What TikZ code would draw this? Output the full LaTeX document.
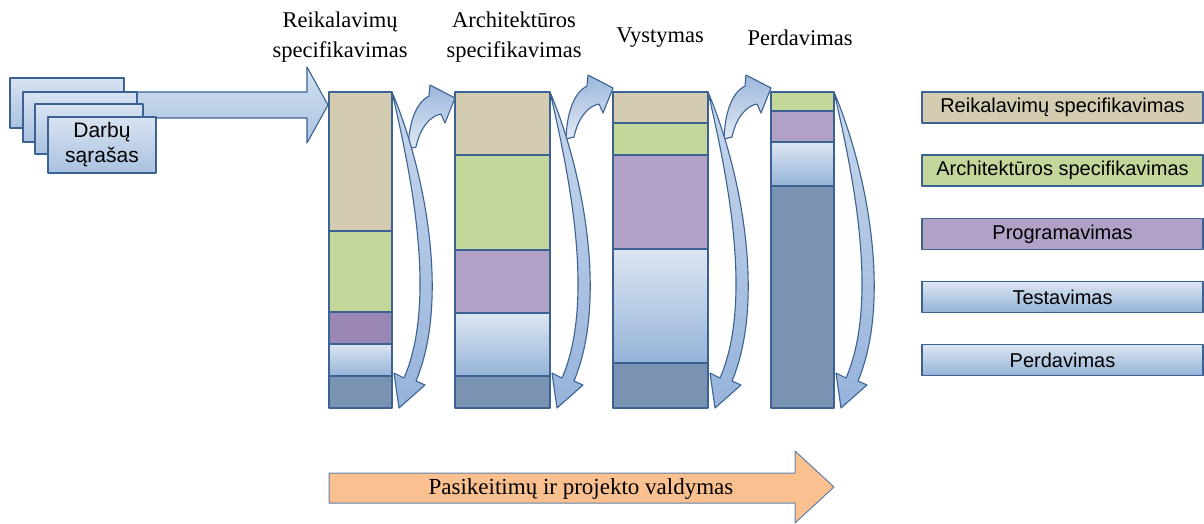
\documentclass[tikz,border=0pt]{standalone}
\usepackage{fontspec}
\setmainfont{Liberation Serif}
\newfontfamily\sansf{Liberation Sans}
\definecolor{bord}{HTML}{3B6293}
\definecolor{beige}{HTML}{D4CCB1}
\definecolor{lgreen}{HTML}{C4D79B}
\definecolor{lpurple}{HTML}{B2A1C7}
\definecolor{dpurple}{HTML}{9B87B5}
\definecolor{lbtop}{HTML}{DCE6F2}
\definecolor{lbbot}{HTML}{95B3D7}
\definecolor{slate}{HTML}{7B93B2}
\definecolor{orangef}{HTML}{FAC090}
\definecolor{dntop}{HTML}{C8D8ED}
\definecolor{dnbot}{HTML}{97B3DA}
\definecolor{uptop}{HTML}{9BB6DB}
\definecolor{upbot}{HTML}{E2EAF5}
\definecolor{cardtop}{HTML}{D8E3F1}
\definecolor{cardbot}{HTML}{A9C1E0}
\definecolor{intop}{HTML}{D3E0F0}
\definecolor{inbot}{HTML}{ABC3E2}
\begin{document}
\begin{tikzpicture}[x=1pt,y=-1pt,line join=round,
  edge/.style={draw=bord,line width=1.1pt},
  lb/.style={top color=lbtop,bottom color=lbbot},
  downbend/.style={edge,top color=dntop,bottom color=dnbot},
  upbend/.style={edge,top color=uptop,bottom color=upbot},
  card/.style={edge,top color=cardtop,bottom color=cardbot},
  leg/.style={edge,minimum width=281pt,minimum height=31pt,inner sep=0pt,
    font=\sansf\fontsize{20}{22}\selectfont},
  head/.style={font=\fontsize{22.5}{30}\selectfont,align=center,inner sep=0pt}]
\useasboundingbox (0,0) rectangle (1204,524);

% incoming backlog arrow
\path[edge,top color=intop,bottom color=inbot]
  (100,92) -- (307,92) -- (307,67) -- (328,105) -- (307,143) -- (307,118) -- (100,118) -- cycle;

% stacked backlog cards
\path[card] (10,78) rectangle (124,128);
\path[card] (23,92) rectangle (137,142);
\path[card] (35,104) rectangle (143,154);
\path[card] (48,117) rectangle (156,173);
\node[font=\sansf\fontsize{21}{25}\selectfont,align=center] (darbai) at (102,145) {Darbų\\sąrašas};

% column 1
\path[edge,fill=beige] (329,92) rectangle (392,231);
\path[edge,fill=lgreen] (329,231) rectangle (392,312);
\path[edge,fill=dpurple] (329,312) rectangle (392,344);
\path[edge,lb] (329,344) rectangle (392,376);
\path[edge,fill=slate] (329,376) rectangle (392,408);
% column 2
\path[edge,fill=beige] (455,92) rectangle (550,155);
\path[edge,fill=lgreen] (455,155) rectangle (550,250);
\path[edge,fill=lpurple] (455,250) rectangle (550,313);
\path[edge,lb] (455,313) rectangle (550,376);
\path[edge,fill=slate] (455,376) rectangle (550,408);
% column 3
\path[edge,fill=beige] (613,92) rectangle (708,123);
\path[edge,fill=lgreen] (613,123) rectangle (708,155);
\path[edge,fill=lpurple] (613,155) rectangle (708,249);
\path[edge,lb] (613,249) rectangle (708,363);
\path[edge,fill=slate] (613,363) rectangle (708,408);
% column 4
\path[edge,fill=lgreen] (771,92) rectangle (834,111);
\path[edge,fill=lpurple] (771,111) rectangle (834,142);
\path[edge,lb] (771,142) rectangle (834,186);
\path[edge,fill=slate] (771,186) rectangle (834,408);

% curved hand-over arrows between columns
\foreach \r/\dy in {392/10,550/0,708/0}{
  \begin{scope}[shift={(\r,\dy)}]
    \path[upbend] (16,139) .. controls (17,110) and (25,92) .. (37,86) -- (38,75) -- (63,88)
      -- (53,113) -- (49,104) .. controls (38,106) and (28,118) .. (24,137) -- cycle;
  \end{scope}
}
% curved feedback arrows beside each column
\foreach \r in {392,550,708,834}{
  \begin{scope}[shift={(\r,0)}]
    \path[downbend] (0,92) .. controls (33,170) and (58,300) .. (24,381) -- (33,385) -- (7,408)
      -- (2,373) -- (12,378) .. controls (46,300) and (18,170) .. (0,92) -- cycle;
  \end{scope}
}

% phase headers
\node[head] (h1) at (340,37) {Reikalavimų\\specifikavimas};
\node[head] (h2) at (514,37) {Architektūros\\specifikavimas};
\node[head] (h3) at (660,38) {Vystymas};
\node[head] (h4) at (800,38) {Perdavimas};

% legend
\node[leg,fill=beige] (l1) at (1062.5,107.5) {Reikalavimų specifikavimas};
\node[leg,fill=lgreen] (l2) at (1062.5,170.5) {Architektūros specifikavimas};
\node[leg,fill=lpurple] (l3) at (1062.5,234) {Programavimas};
\node[leg,lb] (l4) at (1062.5,297) {Testavimas};
\node[leg,lb] (l5) at (1062.5,360) {Perdavimas};

% change and project management arrow
\path[draw=bord!80,line width=1pt,fill=orangef]
  (329,473) -- (795,473) -- (795,451) -- (834,487) -- (795,523) -- (795,503) -- (329,503) -- cycle;
\node[font=\fontsize{23}{26}\selectfont] (valdymas) at (581,489) {Pasikeitimų ir projekto valdymas};
\end{tikzpicture}
\end{document}
